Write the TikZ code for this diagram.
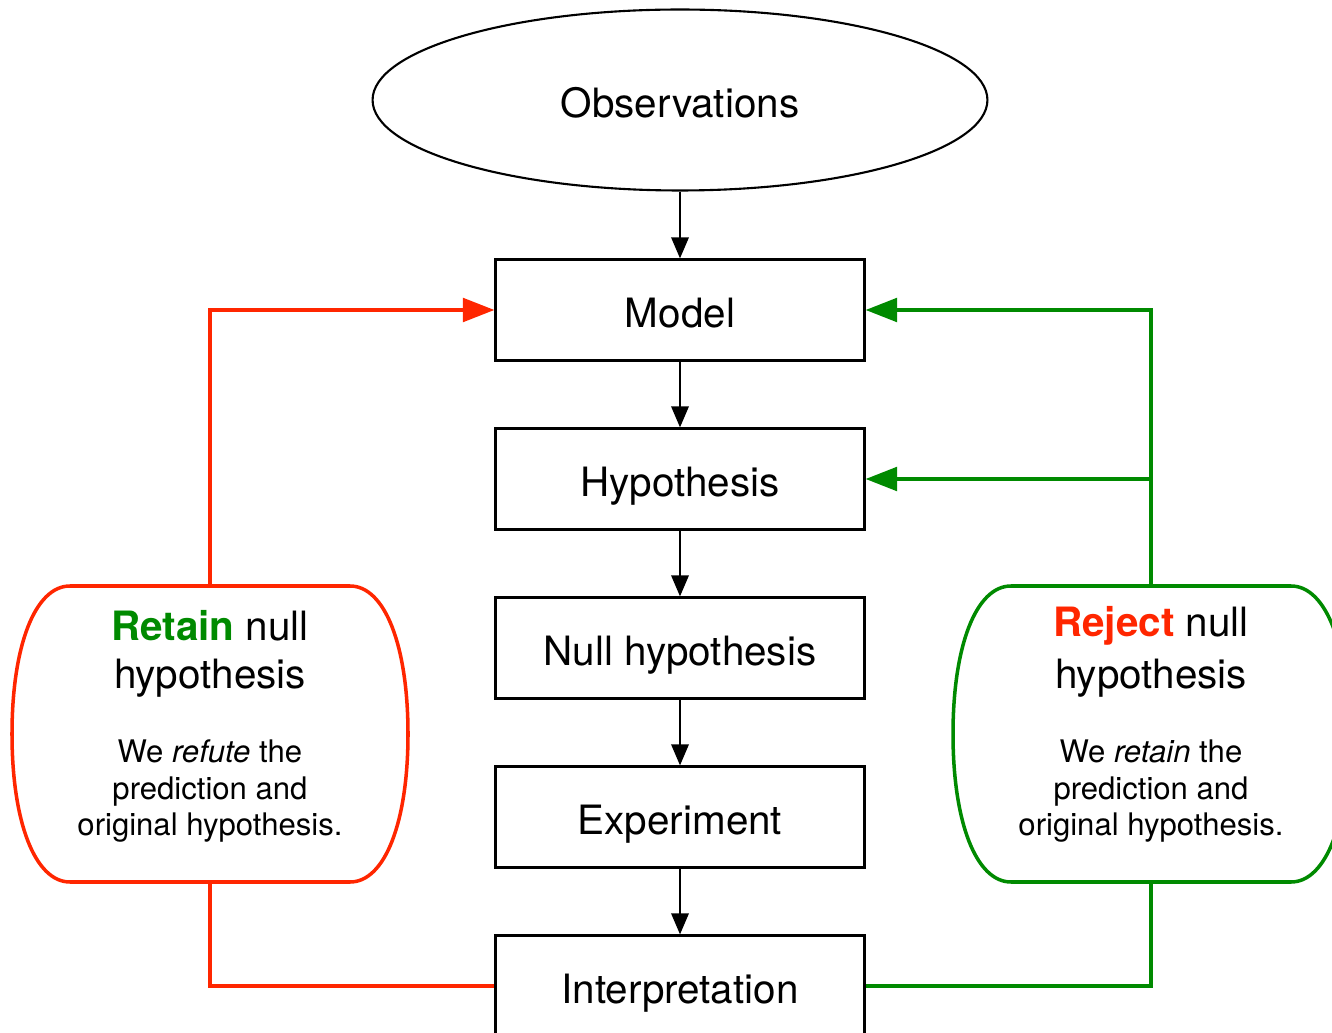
\documentclass[tikz,border=0pt]{standalone}
\usepackage{xcolor}
\usepackage{fontspec}
\setmainfont{TeX Gyre Heros}
\usepackage{tikz}
\usetikzlibrary{shapes.geometric, arrows.meta, positioning, calc}
\definecolor{rejred}{RGB}{255,38,0}
\definecolor{retgreen}{RGB}{0,138,0}
\newcommand{\headfont}{\fontsize{23}{27.3}\selectfont}
\newcommand{\notefont}{\fontsize{17.7}{20.5}\selectfont}
% outline with bulging sides round a decision node
\newcommand{\bulgeline}[2]{%
  \draw[#2] ($(#1)+(-140,-148)$) -- ($(#1)+(140,-148)$)
    .. controls ($(#1)+(175,-148)$) and ($(#1)+(198,-88)$) .. ($(#1)+(198,0)$)
    .. controls ($(#1)+(198,88)$) and ($(#1)+(175,148)$) .. ($(#1)+(140,148)$)
    -- ($(#1)+(-140,148)$)
    .. controls ($(#1)+(-175,148)$) and ($(#1)+(-198,88)$) .. ($(#1)+(-198,0)$)
    .. controls ($(#1)+(-198,-88)$) and ($(#1)+(-175,-148)$) .. cycle;}

\begin{document}
\begin{tikzpicture}
  [
    x=0.02cm, y=-0.02cm,
    Oval/.style={ellipse, draw=black, line width=1.2pt, inner sep=0pt,
      minimum width=12.3cm, minimum height=3.62cm, font=\headfont,
      text height=22.4pt, text depth=3pt},
    Box/.style={rectangle, draw=black, line width=1.3pt, inner sep=0pt,
      minimum width=7.38cm, minimum height=2.02cm, font=\headfont,
      text height=22.4pt, text depth=3pt},
    Choice/.style={rectangle, inner sep=0pt, align=center, font=\notefont,
      minimum width=7.9cm, minimum height=5.92cm,
      text height=115pt, text depth=0pt},
    Flow/.style={-{Triangle[length=12pt, width=10pt]}, draw, line width=1pt},
    RedLine/.style={draw=rejred, line width=2pt},
    GreenLine/.style={draw=retgreen, line width=2pt},
    Tip/.style={-{Triangle[length=18pt, width=13.5pt]}}
  ]
  \clip (0,0) rectangle (1332,1033);
  % Nodes
  \node[Oval] (obs) at (680, 100) {Observations};
  \node[Box] (model) at (680, 310) {Model};
  \node[Box] (hypo) at (680, 479) {Hypothesis};
  \node[Box] (null) at (680, 648) {Null hypothesis};
  \node[Box] (exper) at (680, 817) {Experiment};
  \node[Box] (interp) at (680, 986) {Interpretation};
  \node[Choice] (retain) at (210, 734)
    {\headfont\textbf{\textcolor{retgreen}{Retain}} null\\[6.8pt]
     \headfont hypothesis\\[22pt]
     We \textit{refute} the\\prediction and\\original hypothesis.};
  \node[Choice] (reject) at (1151, 734)
    {\headfont\textbf{\textcolor{rejred}{Reject}} null\\[6.8pt]
     \headfont hypothesis\\[22pt]
     We \textit{retain} the\\prediction and\\original hypothesis.};
  \bulgeline{retain}{rejred, line width=2pt}
  \bulgeline{reject}{retgreen, line width=2pt}
  % Lines
  \path [Flow] (obs) -- (model);
  \path [Flow] (model) -- (hypo);
  \path [Flow] (hypo) -- (null);
  \path [Flow] (null) -- (exper);
  \path [Flow] (exper) -- (interp);
  \path [RedLine, Tip] (retain.north) |- (model.west);
  \path [RedLine] (retain.south) |- (interp.west);
  \path [GreenLine, Tip] (reject.north) |- (model.east);
  \path [GreenLine, Tip] (reject.north) |- (hypo.east);
  \path [GreenLine] (reject.south) |- (interp.east);
\end{tikzpicture}
\end{document}
